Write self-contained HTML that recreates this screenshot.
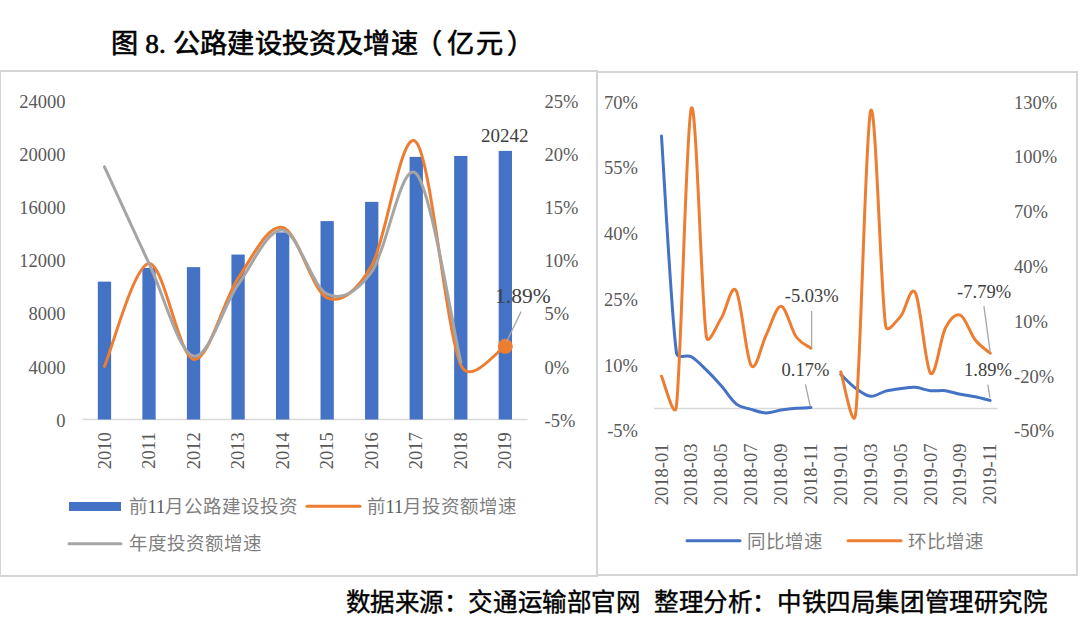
<!DOCTYPE html>
<html lang="zh-CN"><head><meta charset="utf-8"><title>图8 公路建设投资及增速</title>
<style>
html,body{margin:0;padding:0;background:#fff;}
body{width:1080px;height:621px;overflow:hidden;position:relative;font-family:"Liberation Serif", serif;}
.panel{position:absolute;box-sizing:border-box;border:2px solid #D4D4D4;background:#fff;}
svg{position:absolute;left:0;top:0;}
.t{position:absolute;white-space:nowrap;color:#000;font-weight:normal;line-height:1;}
</style></head>
<body>
<div class="panel" style="left:-1px;top:69.5px;width:598.5px;height:507px;"></div>
<div class="panel" style="left:595.5px;top:70.5px;width:482px;height:505.5px;"></div>
<svg width="1080" height="621" viewBox="0 0 1080 621" font-family='"Liberation Serif", serif'>
<line x1="82.2" y1="419.5" x2="527.6" y2="419.5" stroke="#D9D9D9" stroke-width="1.5"/>
<rect x="97.82" y="281.62" width="13.3" height="137.88" fill="#4472C4"/>
<rect x="142.36" y="267.95" width="13.3" height="151.55" fill="#4472C4"/>
<rect x="186.90" y="267.15" width="13.3" height="152.35" fill="#4472C4"/>
<rect x="231.44" y="254.54" width="13.3" height="164.96" fill="#4472C4"/>
<rect x="275.98" y="232.38" width="13.3" height="187.12" fill="#4472C4"/>
<rect x="320.52" y="221.10" width="13.3" height="198.40" fill="#4472C4"/>
<rect x="365.06" y="201.86" width="13.3" height="217.64" fill="#4472C4"/>
<rect x="409.60" y="156.87" width="13.3" height="262.63" fill="#4472C4"/>
<rect x="454.14" y="155.94" width="13.3" height="263.56" fill="#4472C4"/>
<rect x="498.68" y="150.87" width="13.3" height="268.63" fill="#4472C4"/>
<path d="M104.47,366.42 C111.89,349.28 134.16,264.77 149.01,263.61 C163.86,262.45 178.70,356.98 193.55,359.43 C208.40,361.88 223.24,300.30 238.09,278.30 C252.94,256.30 267.78,224.17 282.63,227.43 C297.48,230.68 312.32,291.47 327.17,297.82 C342.02,304.18 358.05,289.43 371.71,265.56 C386.56,239.61 401.40,125.58 416.25,142.13 C431.10,158.68 445.94,330.83 460.79,364.86 C470.43,386.97 497.91,349.44 505.33,346.35" fill="none" stroke="#ED7D31" stroke-width="3" stroke-linecap="round" stroke-linejoin="round"/>
<path d="M104.47,166.82 C111.89,182.93 134.16,231.90 149.01,263.44 C163.86,294.97 178.70,352.50 193.55,356.03 C208.40,359.57 223.24,305.67 238.09,284.67 C252.94,263.67 267.78,228.46 282.63,230.05 C297.48,231.64 312.32,287.21 327.17,294.19 C342.02,301.17 356.91,291.95 371.71,271.93 C386.56,251.84 401.40,158.59 416.25,173.63 C431.10,188.67 453.37,330.75 460.79,362.17" fill="none" stroke="#A5A5A5" stroke-width="3" stroke-linecap="round" stroke-linejoin="round"/>
<circle cx="505.33" cy="346.35" r="7.5" fill="#ED7D31"/>
<line x1="521" y1="311.6" x2="506.6" y2="341.7" stroke="#A6A6A6" stroke-width="1.3"/>
<text x="65.5" y="426.60" text-anchor="end" font-size="18.5" fill="#595959">0</text>
<text x="65.5" y="373.52" text-anchor="end" font-size="18.5" fill="#595959">4000</text>
<text x="65.5" y="320.43" text-anchor="end" font-size="18.5" fill="#595959">8000</text>
<text x="65.5" y="267.35" text-anchor="end" font-size="18.5" fill="#595959">12000</text>
<text x="65.5" y="214.27" text-anchor="end" font-size="18.5" fill="#595959">16000</text>
<text x="65.5" y="161.18" text-anchor="end" font-size="18.5" fill="#595959">20000</text>
<text x="65.5" y="108.10" text-anchor="end" font-size="18.5" fill="#595959">24000</text>
<text x="544.5" y="426.60" font-size="18.5" fill="#595959">-5%</text>
<text x="544.5" y="373.52" font-size="18.5" fill="#595959">0%</text>
<text x="544.5" y="320.43" font-size="18.5" fill="#595959">5%</text>
<text x="544.5" y="267.35" font-size="18.5" fill="#595959">10%</text>
<text x="544.5" y="214.27" font-size="18.5" fill="#595959">15%</text>
<text x="544.5" y="161.18" font-size="18.5" fill="#595959">20%</text>
<text x="544.5" y="108.10" font-size="18.5" fill="#595959">25%</text>
<text transform="translate(110.57,432.3) rotate(-90)" text-anchor="end" font-size="18.5" fill="#595959">2010</text>
<text transform="translate(155.11,432.3) rotate(-90)" text-anchor="end" font-size="18.5" fill="#595959">2011</text>
<text transform="translate(199.65,432.3) rotate(-90)" text-anchor="end" font-size="18.5" fill="#595959">2012</text>
<text transform="translate(244.19,432.3) rotate(-90)" text-anchor="end" font-size="18.5" fill="#595959">2013</text>
<text transform="translate(288.73,432.3) rotate(-90)" text-anchor="end" font-size="18.5" fill="#595959">2014</text>
<text transform="translate(333.27,432.3) rotate(-90)" text-anchor="end" font-size="18.5" fill="#595959">2015</text>
<text transform="translate(377.81,432.3) rotate(-90)" text-anchor="end" font-size="18.5" fill="#595959">2016</text>
<text transform="translate(422.35,432.3) rotate(-90)" text-anchor="end" font-size="18.5" fill="#595959">2017</text>
<text transform="translate(466.89,432.3) rotate(-90)" text-anchor="end" font-size="18.5" fill="#595959">2018</text>
<text transform="translate(511.43,432.3) rotate(-90)" text-anchor="end" font-size="18.5" fill="#595959">2019</text>
<text x="504.7" y="141.5" text-anchor="middle" font-size="19" fill="#404040">20242</text>
<text x="522.8" y="303" text-anchor="middle" font-size="21.5" fill="#404040">1.89%</text>
<rect x="69" y="502" width="52" height="9" fill="#4472C4"/>
<text x="128.5" y="512.5" font-size="18.5" fill="#595959"><tspan fill="#7F7F7F">前</tspan>11<tspan fill="#7F7F7F">月公路建设投资</tspan></text>
<line x1="307" y1="506.3" x2="360" y2="506.3" stroke="#ED7D31" stroke-width="3" stroke-linecap="round"/>
<text x="366.5" y="512.5" font-size="18.5" fill="#595959"><tspan fill="#7F7F7F">前</tspan>11<tspan fill="#7F7F7F">月投资额增速</tspan></text>
<line x1="69" y1="543.8" x2="121" y2="543.8" stroke="#A5A5A5" stroke-width="3" stroke-linecap="round"/>
<text x="128.5" y="550" font-size="18.5" fill="#7F7F7F">年度投资额增速</text>
<line x1="654.0" y1="408.4" x2="997.7" y2="408.4" stroke="#D9D9D9" stroke-width="1.5"/>
<path d="M661.47,136.10 C663.96,172.17 671.43,315.73 676.42,352.50 C677.46,360.19 686.38,353.80 691.36,356.70 C696.34,359.60 701.32,365.05 706.30,369.90 C711.28,374.75 716.26,380.13 721.25,385.80 C726.23,391.47 731.21,399.97 736.19,403.90 C741.17,407.83 746.15,407.90 751.13,409.40 C756.11,410.90 761.09,412.78 766.08,412.90 C771.06,413.01 776.04,410.87 781.02,410.10 C786.00,409.33 790.98,408.72 795.96,408.30 C800.94,407.88 808.42,407.72 810.91,407.60" fill="none" stroke="#4472C4" stroke-width="3" stroke-linecap="round" stroke-linejoin="round"/>
<path d="M840.79,374.40 C843.28,376.72 850.76,384.66 855.74,388.30 C860.72,391.94 865.70,395.80 870.68,396.27 C875.66,396.73 880.64,392.38 885.62,391.10 C890.61,389.82 895.59,389.22 900.57,388.60 C905.55,387.98 910.53,387.02 915.51,387.37 C920.49,387.72 925.47,390.15 930.45,390.70 C935.44,391.25 940.42,390.10 945.40,390.70 C950.38,391.30 955.36,393.30 960.34,394.30 C965.32,395.30 970.30,395.68 975.28,396.70 C980.27,397.72 987.74,399.78 990.23,400.40" fill="none" stroke="#4472C4" stroke-width="3" stroke-linecap="round" stroke-linejoin="round"/>
<path d="M661.47,376.20 C663.96,381.18 674.56,422.71 676.42,406.10 C681.40,361.43 686.38,119.82 691.36,108.17 C696.34,96.52 701.32,301.18 706.30,336.20 C707.94,347.74 716.26,325.89 721.25,318.30 C726.23,310.71 731.21,282.82 736.19,290.68 C741.17,298.54 746.15,358.04 751.13,365.46 C756.11,372.88 761.09,345.08 766.08,335.20 C771.06,325.32 776.04,305.99 781.02,306.20 C786.00,306.42 790.98,329.50 795.96,336.50 C800.94,343.50 808.42,346.25 810.91,348.20" fill="none" stroke="#ED7D31" stroke-width="3" stroke-linecap="round" stroke-linejoin="round"/>
<path d="M840.79,371.80 C843.28,378.70 853.23,435.05 855.74,413.19 C860.72,369.69 865.70,125.34 870.68,110.77 C875.66,96.21 880.64,291.54 885.62,325.81 C886.89,334.55 895.59,321.87 900.57,316.40 C905.55,310.93 910.53,283.50 915.51,292.97 C920.49,302.45 925.47,367.40 930.45,373.24 C935.44,379.08 940.42,337.69 945.40,328.00 C949.91,319.21 955.36,313.08 960.34,315.08 C965.32,317.08 970.30,333.65 975.28,340.00 C980.27,346.35 987.74,351.00 990.23,353.20" fill="none" stroke="#ED7D31" stroke-width="3" stroke-linecap="round" stroke-linejoin="round"/>
<line x1="811.6" y1="311" x2="811.6" y2="348" stroke="#A6A6A6" stroke-width="1.3"/>
<line x1="805.4" y1="384.4" x2="810.3" y2="406.7" stroke="#A6A6A6" stroke-width="1.3"/>
<line x1="983.9" y1="306.2" x2="990.2" y2="352.1" stroke="#A6A6A6" stroke-width="1.3"/>
<line x1="987.8" y1="384.6" x2="990" y2="397.9" stroke="#A6A6A6" stroke-width="1.3"/>
<text x="811.7" y="302.1" text-anchor="middle" font-size="18.5" fill="#404040">-5.03%</text>
<text x="805.4" y="375.6" text-anchor="middle" font-size="18.5" fill="#404040">0.17%</text>
<text x="984.1" y="297.8" text-anchor="middle" font-size="18.5" fill="#404040">-7.79%</text>
<text x="988" y="376.2" text-anchor="middle" font-size="18.5" fill="#404040">1.89%</text>
<text x="638" y="437.43" text-anchor="end" font-size="18.5" fill="#595959">-5%</text>
<text x="638" y="371.65" text-anchor="end" font-size="18.5" fill="#595959">10%</text>
<text x="638" y="305.88" text-anchor="end" font-size="18.5" fill="#595959">25%</text>
<text x="638" y="240.10" text-anchor="end" font-size="18.5" fill="#595959">40%</text>
<text x="638" y="174.32" text-anchor="end" font-size="18.5" fill="#595959">55%</text>
<text x="638" y="108.55" text-anchor="end" font-size="18.5" fill="#595959">70%</text>
<text x="1014" y="437.45" font-size="18.5" fill="#595959">-50%</text>
<text x="1014" y="382.64" font-size="18.5" fill="#595959">-20%</text>
<text x="1014" y="327.83" font-size="18.5" fill="#595959">10%</text>
<text x="1014" y="273.02" font-size="18.5" fill="#595959">40%</text>
<text x="1014" y="218.21" font-size="18.5" fill="#595959">70%</text>
<text x="1014" y="163.40" font-size="18.5" fill="#595959">100%</text>
<text x="1014" y="108.59" font-size="18.5" fill="#595959">130%</text>
<text transform="translate(667.57,443.5) rotate(-90)" text-anchor="end" font-size="18.5" fill="#595959">2018-01</text>
<text transform="translate(697.46,443.5) rotate(-90)" text-anchor="end" font-size="18.5" fill="#595959">2018-03</text>
<text transform="translate(727.35,443.5) rotate(-90)" text-anchor="end" font-size="18.5" fill="#595959">2018-05</text>
<text transform="translate(757.23,443.5) rotate(-90)" text-anchor="end" font-size="18.5" fill="#595959">2018-07</text>
<text transform="translate(787.12,443.5) rotate(-90)" text-anchor="end" font-size="18.5" fill="#595959">2018-09</text>
<text transform="translate(817.01,443.5) rotate(-90)" text-anchor="end" font-size="18.5" fill="#595959">2018-11</text>
<text transform="translate(846.89,443.5) rotate(-90)" text-anchor="end" font-size="18.5" fill="#595959">2019-01</text>
<text transform="translate(876.78,443.5) rotate(-90)" text-anchor="end" font-size="18.5" fill="#595959">2019-03</text>
<text transform="translate(906.67,443.5) rotate(-90)" text-anchor="end" font-size="18.5" fill="#595959">2019-05</text>
<text transform="translate(936.55,443.5) rotate(-90)" text-anchor="end" font-size="18.5" fill="#595959">2019-07</text>
<text transform="translate(966.44,443.5) rotate(-90)" text-anchor="end" font-size="18.5" fill="#595959">2019-09</text>
<text transform="translate(996.33,443.5) rotate(-90)" text-anchor="end" font-size="18.5" fill="#595959">2019-11</text>
<line x1="687" y1="540.8" x2="740" y2="540.8" stroke="#4472C4" stroke-width="3" stroke-linecap="round"/>
<text x="746.5" y="547.5" font-size="18.5" fill="#7F7F7F">同比增速</text>
<line x1="848" y1="540.8" x2="901" y2="540.8" stroke="#ED7D31" stroke-width="3" stroke-linecap="round"/>
<text x="908" y="547.5" font-size="18.5" fill="#7F7F7F">环比增速</text>
</svg>
<div class="t" id="title" style="left:111px;top:31.3px;font-size:27.2px;letter-spacing:0.2px;-webkit-text-stroke:0.6px #000;">图 8. 公路建设投资及增速<span style="position:relative;left:-3px">（</span><span style="position:relative;left:2px">亿</span><span style="position:relative;left:3.5px">元</span><span style="position:relative;left:8px">）</span></div>
<div class="t" id="foot1" style="left:345.5px;top:590.5px;font-size:24.5px;letter-spacing:0.6px;-webkit-text-stroke:0.4px #000;">数据来源：交通运输部官网</div>
<div class="t" id="foot2" style="left:654px;top:590.5px;font-size:24.5px;letter-spacing:0.6px;-webkit-text-stroke:0.4px #000;">整理分析：中铁四局集团管理研究院</div>
</body></html>
